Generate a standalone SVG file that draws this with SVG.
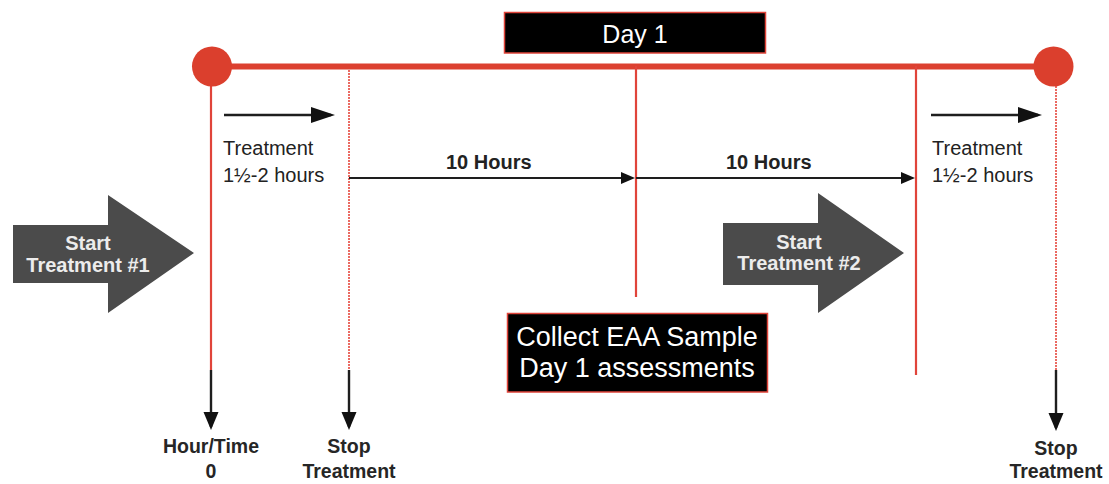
<svg xmlns="http://www.w3.org/2000/svg" width="1109" height="484" viewBox="0 0 1109 484">
  <style>
    .txt { font-family: "Liberation Sans", Arial, Helvetica, sans-serif; fill: #222; }
    .reg { font-size: 20px; }
    .bold { font-size: 20px; font-weight: bold; }
    .lab { font-size: 19.5px; font-weight: bold; text-anchor: middle; fill: #262626; }
    .inv { font-family: "Liberation Sans", Arial, Helvetica, sans-serif; fill: #ffffff; text-anchor: middle; }
    .startTxt { font-family: "Liberation Sans", Arial, Helvetica, sans-serif; font-size: 20px; font-weight: bold; fill: #ececec; text-anchor: middle; }
    .red { stroke: #e0443a; fill: none; }
    .dot { stroke: #e5473d; stroke-width: 1.6; stroke-dasharray: 2 1; fill: none; }
    .conn { stroke: #1e1e1e; fill: none; }
    .bigArrow { fill: #4b4b4b; }
  </style>
  <defs>
    <marker id="headBig" markerUnits="userSpaceOnUse" markerWidth="24" markerHeight="18" viewBox="0 0 24 18" refX="20" refY="9" orient="auto">
      <path d="M0,1 L24,9 L0,17 Z" fill="#111"/>
    </marker>
    <marker id="headMid" markerUnits="userSpaceOnUse" markerWidth="14" markerHeight="14" viewBox="0 0 14 14" refX="11" refY="7" orient="auto">
      <path d="M0,1 L14,7 L0,13 Z" fill="#111"/>
    </marker>
    <marker id="headDown" markerUnits="userSpaceOnUse" markerWidth="18" markerHeight="16" viewBox="0 0 18 16" refX="15" refY="8" orient="auto">
      <path d="M0,0.5 L18,8 L0,15.5 Z" fill="#111"/>
    </marker>
  </defs>

  <!-- main day timeline -->
  <g id="timeline">
    <line x1="212" y1="66.5" x2="1053" y2="66.5" stroke="#dc4030" stroke-width="6"/>
    <line class="red" x1="211" y1="66" x2="211" y2="370" stroke-width="2.2"/>
    <line class="dot" x1="349" y1="70" x2="349" y2="370"/>
    <line class="red" x1="636" y1="66" x2="636" y2="297" stroke-width="2.2"/>
    <line class="red" x1="916" y1="66" x2="916" y2="375" stroke-width="2.2"/>
    <line class="dot" x1="1056" y1="86" x2="1056" y2="370"/>
    <circle cx="212" cy="66.5" r="20" fill="#db3f2d"/>
    <circle cx="1053.5" cy="66.5" r="20" fill="#db3f2d"/>
  </g>

  <!-- day header -->
  <g id="day1">
    <rect x="504.5" y="12.5" width="261" height="40.5" fill="#000" stroke="#e0443a" stroke-width="1.5"/>
    <text class="inv" x="635" y="43" font-size="25">Day 1</text>
  </g>

  <!-- sample collection box -->
  <g id="collect">
    <rect x="507.5" y="313.5" width="260" height="78.5" fill="#000" stroke="#e0443a" stroke-width="1.5"/>
    <text class="inv" x="637" y="346" font-size="27">Collect EAA Sample</text>
    <text class="inv" x="637" y="377" font-size="27">Day 1 assessments</text>
  </g>

  <!-- treatment start arrows -->
  <g id="start1">
    <path class="bigArrow" d="M13,225 L108,225 L108,195 L194,253 L108,313 L108,283 L13,283 Z"/>
    <text class="startTxt" x="88" y="250">Start</text>
    <text class="startTxt" x="88" y="272">Treatment #1</text>
  </g>
  <g id="start2">
    <path class="bigArrow" d="M723,223 L818,223 L818,193 L904,253 L818,313 L818,285 L723,285 Z"/>
    <text class="startTxt" x="799" y="249">Start</text>
    <text class="startTxt" x="799" y="270">Treatment #2</text>
  </g>

  <!-- treatment duration notes -->
  <g id="treat1">
    <text class="txt reg" x="223" y="155">Treatment</text>
    <text class="txt reg" x="223" y="182">1½-2 hours</text>
  </g>
  <g id="treat2">
    <text class="txt reg" x="932" y="155">Treatment</text>
    <text class="txt reg" x="932" y="182">1½-2 hours</text>
  </g>

  <!-- interval labels -->
  <g id="interval1">
    <text class="txt bold" x="446" y="169">10 Hours</text>
  </g>
  <g id="interval2">
    <text class="txt bold" x="726" y="169">10 Hours</text>
  </g>

  <!-- bottom labels -->
  <g id="hour0">
    <text class="txt lab" x="211" y="453">Hour/Time</text>
    <text class="txt lab" x="211" y="478">0</text>
  </g>
  <g id="stop1">
    <text class="txt lab" x="349" y="453">Stop</text>
    <text class="txt lab" x="349" y="478">Treatment</text>
  </g>
  <g id="stop2">
    <text class="txt lab" x="1056" y="455">Stop</text>
    <text class="txt lab" x="1056" y="478">Treatment</text>
  </g>

  <!-- connectors -->
  <g id="connectors">
    <line class="conn" x1="224" y1="115" x2="331" y2="115" stroke-width="2.6" marker-end="url(#headBig)"/>
    <line class="conn" x1="931" y1="115" x2="1038" y2="115" stroke-width="2.6" marker-end="url(#headBig)"/>
    <line class="conn" x1="349" y1="178" x2="632" y2="178" stroke-width="2" marker-end="url(#headMid)"/>
    <line class="conn" x1="636" y1="178" x2="912" y2="178" stroke-width="2" marker-end="url(#headMid)"/>
    <line class="conn" x1="211" y1="370" x2="211" y2="427" stroke-width="2.4" marker-end="url(#headDown)"/>
    <line class="conn" x1="349" y1="370" x2="349" y2="427" stroke-width="2.4" marker-end="url(#headDown)"/>
    <line class="conn" x1="1056" y1="370" x2="1056" y2="428" stroke-width="2.4" marker-end="url(#headDown)"/>
  </g>
</svg>
